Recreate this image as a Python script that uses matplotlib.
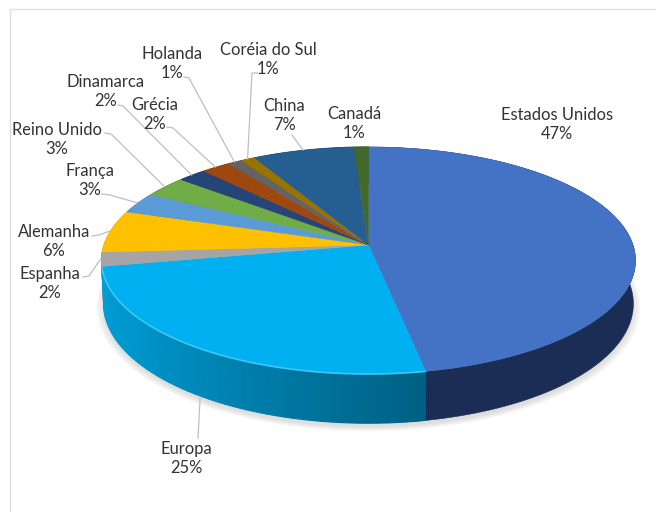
import numpy as np
import matplotlib
matplotlib.use("Agg")
import matplotlib.pyplot as plt
from matplotlib.patches import Polygon, Rectangle
from matplotlib.colors import to_rgb

# Chart data
countries = ["Estados Unidos", "Europa", "Espanha", "Alemanha", "França", "Reino Unido",
             "Dinamarca", "Grécia", "Holanda", "Coréia do Sul", "China", "Canadá"]
shares = [47, 25, 2, 6, 3, 3, 2, 2, 1, 1, 7, 1]
colors = ["#4472C4", "#00B0F0", "#A5A5A5", "#FFC000", "#5B9BD5", "#70AD47",
          "#264478", "#9E480E", "#636363", "#997300", "#255E91", "#43682B"]

# Label centres in figure pixels (x, first-line y)
label_pos = {
    "Estados Unidos": (557, 115), "Europa": (186, 449), "Espanha": (50, 274),
    "Alemanha": (54, 232), "França": (90, 171), "Reino Unido": (57, 130),
    "Dinamarca": (106, 82), "Grécia": (155, 105), "Holanda": (172, 54),
    "Coréia do Sul": (268.5, 50), "China": (284, 106), "Canadá": (354, 114),
}
# Leader starting points beside the labels; the far end follows the slice
leader_start = {
    "Europa": [(198, 438)], "Espanha": [(83, 277), (89, 276)],
    "Alemanha": [(92, 236), (99, 235)], "França": [(102, 194), (110, 195)],
    "Reino Unido": [(105, 133), (111, 134)], "Dinamarca": [(118, 105), (123, 106)],
    "Grécia": [(167, 127), (173, 128)], "Holanda": [(184, 77), (189, 78)],
    "Coréia do Sul": [(258, 73), (252, 73)], "China": [(292, 135)],
}

# Perspective pie geometry
CX, CY, RX, RY = 368.5, 245.0, 264.5, 111.4
PERSP, DEPTH = 0.1365, 42.5


def project(angle, radius=1.0, drop=0.0, shrink=1.0):
    """Map a clockwise angle from 12 o'clock on the disc to figure pixels."""
    across = radius * np.sin(angle)
    back = radius * np.cos(angle)
    scale = 1.0 / (1.0 + PERSP * back)
    x = CX + RX * across * scale * shrink
    y = CY - RY * back * scale + drop * scale
    return x, y


def wall_polygon(a0, a1):
    a = np.linspace(a0, a1, max(int(np.degrees(a1 - a0)), 2) + 1)
    xt, yt = project(a)
    xb, yb = project(a[::-1], drop=DEPTH, shrink=0.992)
    return np.r_[np.c_[xt, yt], np.c_[xb, yb]]


fig = plt.figure(figsize=(6.56, 5.12), dpi=100)
ax = fig.add_axes([0, 0, 1, 1])
ax.set_xlim(0, 656)
ax.set_ylim(512, 0)
ax.axis("off")

# Chart frame; its right and bottom sides run past the canvas
ax.add_patch(Rectangle((10, 9), 700, 600, fill=False, ec="#DEDEDE", lw=1.0, zorder=0))

# Soft shadow under the disc
ring = np.linspace(0, 2 * np.pi, 240)
for grow in np.linspace(1.03, 1.0, 10):
    sx, sy = project(ring, radius=grow, drop=DEPTH + 3, shrink=0.99)
    ax.add_patch(Polygon(np.c_[sx, sy], fc="#777777", ec="none", alpha=0.022, zorder=1))

fractions = np.asarray(shares, dtype=float) / sum(shares)
edges = np.r_[0, np.cumsum(fractions)] * 2 * np.pi

# Outer wall: the large dark slice is flat, the rest darken towards the front
order = sorted(range(len(shares)), key=lambda k: -np.cos(0.5 * (edges[k] + edges[k + 1])))
for i in order:
    if countries[i] == "Estados Unidos":
        ax.add_patch(Polygon(wall_polygon(edges[i], edges[i + 1]), fc="#1B2C55", ec="#1B2C55", lw=0.4, zorder=2))
        continue
    steps = np.linspace(edges[i], edges[i + 1], max(shares[i] * 2, 2) + 1)
    for a0, a1 in zip(steps[:-1], steps[1:]):
        t = np.clip((1 + np.sin(0.5 * (a0 + a1))) / 1.187, 0, 1)
        face = tuple(c * (1 - (0.1 + 0.36 * t)) for c in to_rgb(colors[i]))
        ax.add_patch(Polygon(wall_polygon(a0, a1), fc=face, ec=face, lw=0.8, zorder=2))

# Top faces
for i, color in enumerate(colors):
    a = np.linspace(edges[i], edges[i + 1], max(int(shares[i] * 4), 6) + 1)
    x, y = project(a)
    ax.add_patch(Polygon(np.r_[[(CX, CY)], np.c_[x, y]], fc=color, ec=color, lw=0.3, zorder=3))

# Bright bevel along the front rim of the Europa slice
a = np.linspace(edges[1], edges[2], 90)
x, y = project(a)
ax.plot(x, y, color="#3FC6F7", lw=1.2, zorder=4, solid_capstyle="butt")

# Labels and leader lines
for i, name in enumerate(countries):
    lx, ly = label_pos[name]
    ax.text(lx, ly, name, ha="center", va="center", fontsize=11.9, family="Lato",
            color="#333333", zorder=6)
    ax.text(lx, ly + 19, f"{shares[i]}%", ha="center", va="center", fontsize=11.9, family="Lato",
            color="#333333", zorder=6)
    if name in leader_start:
        mid = 0.5 * (edges[i] + edges[i + 1])
        # front slices hang their leader from the lower rim of the wall
        drop = DEPTH if np.cos(mid) < -0.3 else 0.0
        end = project(mid, radius=1.004, drop=drop)
        pts = leader_start[name] + [end]
        ax.plot([p[0] for p in pts], [p[1] for p in pts], color="#BFBFBF", lw=0.9, zorder=5)

fig.savefig("out.png", dpi=100, facecolor="white")
